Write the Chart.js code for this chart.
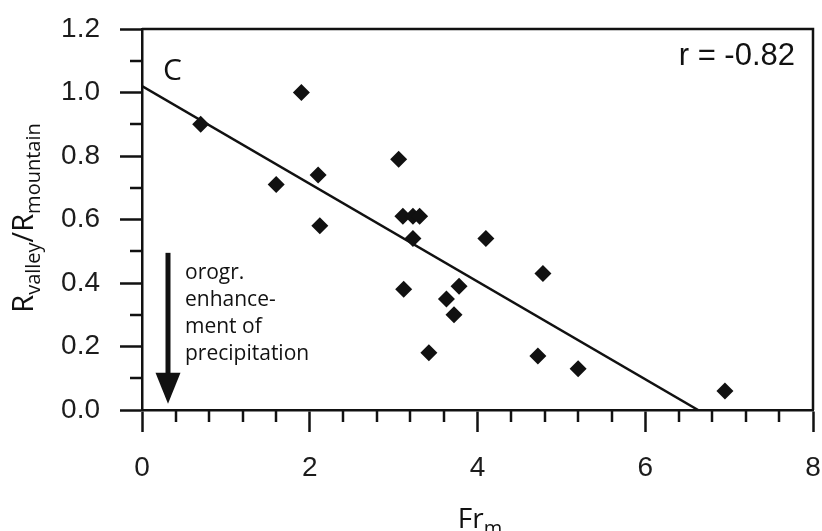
<!DOCTYPE html>
<html>
<head>
<meta charset="utf-8">
<title>Rvalley/Rmountain vs Fr_m</title>
<script src="https://cdn.jsdelivr.net/npm/chart.js@4"></script>
<style>
  html, body { margin: 0; padding: 0; background: #fff; }
  #wrap { width: 822px; height: 531px; }
</style>
</head>
<body>
<div id="wrap"><canvas id="chart" width="822" height="531"></canvas></div>
<script>
// Data (panel C)
const frValues = [0.70, 1.90, 1.60, 2.10, 2.12, 3.06, 3.11, 3.23, 3.31, 3.23, 4.10, 4.78, 3.12, 3.78, 3.63, 3.72, 3.42, 4.72, 5.20, 6.95];
const ratioValues = [0.90, 1.00, 0.71, 0.74, 0.58, 0.79, 0.61, 0.61, 0.61, 0.54, 0.54, 0.43, 0.38, 0.39, 0.35, 0.30, 0.18, 0.17, 0.13, 0.06];

// Regression line end points
const fitX = [0, 6.63];
const fitY = [1.02, 0];

// Axis ranges / ticks
const xRange = [0, 8];
const yRange = [0, 1.2];
const xMajorStep = 2;
const xMinorStep = 0.4;
const yMajorStep = 0.2;
const yMinorStep = 0.1;

// Annotation arrow (data units): x, top y, tip y
const arrowX = 0.31;
const arrowY = [0.495, 0.02];
const noteLines = ['orogr.', 'enhance-', 'ment of', 'precipitation'];
const rLabel = 'r = -0.82';
const panelLabel = 'C';

const INK = '#111';
const AXIS_W = 2.5;
const TICK_FONT = { family: '"Liberation Sans", Arial, sans-serif', size: 28 };
const TEXT_FAMILY = '"Open Sans", "Noto Sans", sans-serif';

// draw a run of text parts (with subscripts) starting at x
function drawParts(ctx, parts, x, y) {
  parts.forEach(p => {
    ctx.font = p.font;
    ctx.fillText(p.text, x, y + (p.dy || 0));
    x += ctx.measureText(p.text).width;
  });
}
function partsWidth(ctx, parts) {
  return parts.reduce((w, p) => { ctx.font = p.font; return w + ctx.measureText(p.text).width; }, 0);
}

// keep the plot box where the layout padding puts it
function fixBox(scale, key, size) {
  scale[key] = size;
  scale.paddingTop = 0;
  scale.paddingBottom = 0;
  scale.paddingLeft = 0;
  scale.paddingRight = 0;
}

const decorPlugin = {
  id: 'decor',
  afterDraw(chart) {
    const { ctx, chartArea: a, scales } = chart;
    const xs = scales.x, ys = scales.y;
    ctx.save();
    ctx.strokeStyle = INK;
    ctx.fillStyle = INK;

    // top and right frame
    ctx.lineWidth = AXIS_W;
    ctx.beginPath();
    ctx.moveTo(a.left, a.top);
    ctx.lineTo(a.right, a.top);
    ctx.lineTo(a.right, a.bottom);
    ctx.stroke();

    // minor ticks
    for (let v = xRange[0]; v <= xRange[1] + 1e-9; v += xMinorStep) {
      if (Math.abs(v / xMajorStep - Math.round(v / xMajorStep)) < 1e-6) continue;
      const px = Math.round(xs.getPixelForValue(v));
      ctx.beginPath();
      ctx.moveTo(px, a.bottom);
      ctx.lineTo(px, a.bottom + 12);
      ctx.stroke();
    }
    for (let v = yRange[0]; v <= yRange[1] + 1e-9; v += yMinorStep) {
      if (Math.abs(v / yMajorStep - Math.round(v / yMajorStep)) < 1e-6) continue;
      const py = Math.round(ys.getPixelForValue(v));
      ctx.beginPath();
      ctx.moveTo(a.left, py);
      ctx.lineTo(a.left - 12, py);
      ctx.stroke();
    }

    // arrow
    const ax = xs.getPixelForValue(arrowX);
    const ay0 = ys.getPixelForValue(arrowY[0]);
    const ay1 = ys.getPixelForValue(arrowY[1]);
    ctx.lineWidth = 5;
    ctx.beginPath();
    ctx.moveTo(ax, ay0);
    ctx.lineTo(ax, ay1 - 28);
    ctx.stroke();
    ctx.beginPath();
    ctx.moveTo(ax - 12.5, ay1 - 31);
    ctx.lineTo(ax + 12.5, ay1 - 31);
    ctx.lineTo(ax, ay1);
    ctx.closePath();
    ctx.fill();

    // note text
    ctx.font = '21px ' + TEXT_FAMILY;
    ctx.textAlign = 'left';
    ctx.textBaseline = 'alphabetic';
    noteLines.forEach((t, i) => ctx.fillText(t, ax + 17, ay0 + 26 + i * 27));

    // panel label and r value
    ctx.font = '30px ' + TEXT_FAMILY;
    ctx.fillText(panelLabel, a.left + 21, a.top + 51);
    ctx.font = '31px "Liberation Sans", Arial, sans-serif';
    ctx.textAlign = 'right';
    ctx.fillText(rLabel, a.right - 18, a.top + 36);

    // x title Fr_m
    ctx.textAlign = 'left';
    const xt = [
      { text: 'Fr', font: '28px ' + TEXT_FAMILY },
      { text: 'm', font: '20px ' + TEXT_FAMILY, dy: 7 }
    ];
    drawParts(ctx, xt, 480 - partsWidth(ctx, xt) / 2, 528);

    // y title R_valley / R_mountain
    const yt = [
      { text: 'R', font: '29px ' + TEXT_FAMILY },
      { text: 'valley', font: '20px ' + TEXT_FAMILY, dy: 7 },
      { text: '/R', font: '29px ' + TEXT_FAMILY },
      { text: 'mountain', font: '20px ' + TEXT_FAMILY, dy: 7 }
    ];
    ctx.translate(33, 218);
    ctx.rotate(-Math.PI / 2);
    drawParts(ctx, yt, -partsWidth(ctx, yt) / 2, 0);
    ctx.restore();
  }
};

const points = frValues.map((x, i) => ({ x, y: ratioValues[i] }));
const fitLine = fitX.map((x, i) => ({ x, y: fitY[i] }));

new Chart(document.getElementById('chart'), {
  type: 'scatter',
  data: {
    datasets: [
      {
        label: 'stations',
        data: points,
        pointStyle: 'rectRot',
        pointRadius: 8.5,
        pointBackgroundColor: INK,
        pointBorderWidth: 0,
        order: 1
      },
      {
        type: 'line',
        label: 'fit',
        data: fitLine,
        borderColor: INK,
        borderWidth: 2.5,
        pointRadius: 0,
        fill: false,
        order: 2
      }
    ]
  },
  options: {
    responsive: false,
    animation: false,
    events: [],
    layout: { padding: { left: 0, top: 29, right: 9, bottom: 0 } },
    plugins: { legend: { display: false }, tooltip: { enabled: false } },
    scales: {
      x: {
        type: 'linear',
        min: xRange[0],
        max: xRange[1],
        border: { display: true, color: INK, width: AXIS_W },
        grid: { drawOnChartArea: false, drawTicks: true, tickLength: 22, tickWidth: AXIS_W, tickColor: INK },
        ticks: { stepSize: xMajorStep, color: '#1c1c1c', font: TICK_FONT, padding: 19, maxRotation: 0 },
        afterFit(scale) { fixBox(scale, 'height', 121); }
      },
      y: {
        type: 'linear',
        min: yRange[0],
        max: yRange[1],
        border: { display: true, color: INK, width: AXIS_W },
        grid: { drawOnChartArea: false, drawTicks: true, tickLength: 22, tickWidth: AXIS_W, tickColor: INK },
        ticks: { stepSize: yMajorStep, color: '#1c1c1c', font: TICK_FONT, padding: 20,
                 callback: v => v.toFixed(1) },
        afterFit(scale) { fixBox(scale, 'width', 142); }
      }
    }
  },
  plugins: [decorPlugin]
});
</script>
</body>
</html>
